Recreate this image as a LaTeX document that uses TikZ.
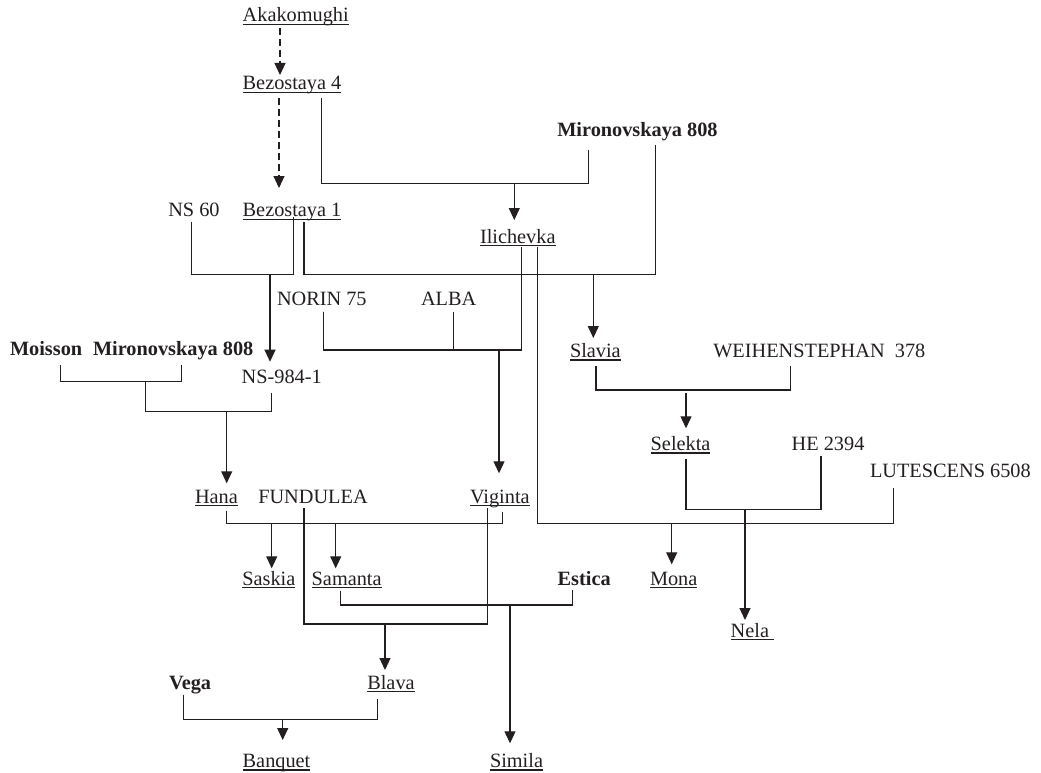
\documentclass[tikz,border=0pt]{standalone}
\usepackage{fontspec}
\setmainfont{Liberation Serif}
\usetikzlibrary{arrows.meta}
\definecolor{ink}{RGB}{35,31,32}
\newcommand\myul[1]{\setbox0\hbox{#1}\rlap{\rule[-3pt]{\wd0}{1.1pt}}\box0}
\begin{document}
\begin{tikzpicture}[x=1pt,y=-1pt,
  lab/.style={inner sep=0pt,outer sep=0pt,anchor=base west,text=ink,font=\fontsize{20.3}{24}\selectfont},
  bl/.style={lab,font=\fontsize{20.3}{24}\selectfont\bfseries},
  ln/.style={draw=ink,line width=1.1pt},
  arr/.style={ln,-{Triangle[width=11pt,length=12pt]}},
  darr/.style={arr,dash pattern=on 7pt off 4pt}]
\useasboundingbox (0,0) rectangle (1041,773);
% ---- texts
\node[lab] (akak) at (242.7,21.7) {\myul{Akakomughi}};
\node[lab] (bez4) at (242.7,90) {\myul{Bezostaya 4}};
\node[bl] (mir1) at (557.3,137) {Mironovskaya 808};
\node[lab] (ns60) at (168.3,216.7) {NS 60};
\node[lab] (bez1) at (242.7,216.7) {\myul{Bezostaya 1}};
\node[lab] (ili) at (480,243) {\myul{Ilichevka}};
\node[lab] (norin) at (277,305) {NORIN 75};
\node[lab] (alba) at (421,305) {ALBA};
\node[bl] (moi) at (10,355.7) {Moisson};
\node[bl] (mir2) at (93,355.7) {Mironovskaya 808};
\node[lab] (ns984) at (241.7,383) {NS-984-1};
\node[lab] (slavia) at (570,357.5) {\myul{Slavia}};
\node[lab] (weih) at (713.3,357.5) {WEIHENSTEPHAN\ \ 378};
\node[lab] (selekta) at (650.7,450.5) {\myul{Selekta}};
\node[lab] (he) at (791.7,450.5) {HE 2394};
\node[lab] (lut) at (870,477) {LUTESCENS 6508};
\node[lab] (hana) at (195,503) {\myul{Hana}};
\node[lab] (fund) at (258.3,503) {FUNDULEA};
\node[lab] (vig) at (470,503) {\myul{Viginta}};
\node[lab] (saskia) at (242.3,585) {\myul{Saskia}};
\node[lab] (samanta) at (311.7,585) {\myul{Samanta}};
\node[bl] (estica) at (557.7,585) {Estica};
\node[lab] (mona) at (650,585) {\myul{Mona}};
\node[lab] (nela) at (730.7,637) {\myul{Nela\ }};
\node[bl] (vega) at (169,689) {Vega};
\node[lab] (blava) at (367.3,689) {\myul{Blava}};
\node[lab] (banq) at (242.7,767.5) {\myul{Banquet}};
\node[lab] (simila) at (490,767.5) {\myul{Simila}};
% ---- junction coordinates
\coordinate (a1) at (280,28); \coordinate (a1t) at (280,75);
\coordinate (b1) at (279,98); \coordinate (b1t) at (279,188);
\coordinate (c1) at (321.7,98); \coordinate (c2) at (588.3,150); \coordinate (cH) at (514.3,183.3); \coordinate (cT) at (514.3,220);
\coordinate (d1) at (191.7,222); \coordinate (d2) at (293.3,217); \coordinate (dH) at (270,274.3); \coordinate (dT) at (270,361.7);
\coordinate (e1) at (304,222); \coordinate (e2) at (655.7,145); \coordinate (eH) at (593.3,274.3); \coordinate (eT) at (593.3,338);
\coordinate (f1) at (323.3,311.7); \coordinate (f2) at (453.3,311.7); \coordinate (f3) at (521.7,246.7); \coordinate (fH) at (499,350); \coordinate (fT) at (499,473.3);
\coordinate (g1) at (60.7,365); \coordinate (g2) at (181.7,365); \coordinate (gH) at (145.7,381.7);
\coordinate (h2) at (271.7,393.3); \coordinate (hH) at (226.7,411.7); \coordinate (hT) at (226.7,483.3);
\coordinate (i1) at (596,366); \coordinate (i2) at (790.7,366); \coordinate (iH) at (686,390); \coordinate (iS) at (686,393); \coordinate (iT) at (686,428.3);
\coordinate (j1) at (686,459); \coordinate (j2) at (821,456); \coordinate (jH) at (745,509.3); \coordinate (jT) at (745,620);
\coordinate (k1) at (537.5,246.7); \coordinate (k2) at (893.3,488.3); \coordinate (kH) at (671.7,523.3); \coordinate (kT) at (671.7,564.3);
\coordinate (l1) at (226.7,510.7); \coordinate (l2) at (502.3,511.7); \coordinate (lH) at (271.7,523.3); \coordinate (lT) at (271.7,568.3); \coordinate (lH2) at (335.7,523.3); \coordinate (lT2) at (335.7,568.3);
\coordinate (m1) at (304,508); \coordinate (m2) at (487.7,508); \coordinate (mH) at (385,624); \coordinate (mT) at (385,670);
\coordinate (n1) at (340.7,590.7); \coordinate (n2) at (572.3,590); \coordinate (nH) at (510,605); \coordinate (nT) at (510,743.3);
\coordinate (o1) at (183.3,695); \coordinate (o2) at (377.3,699); \coordinate (oH) at (282.7,719.3); \coordinate (oT) at (282.7,740);
% ---- connectors
\draw[darr] (a1) -- (a1t);
\draw[darr] (b1) -- (b1t);
\draw[ln] (c1) |- (cH) -| (c2); \draw[arr] (cH) -- (cT);
\draw[ln] (d1) |- (dH) -| (d2); \draw[arr] (dH) -- (dT);
\draw[ln] (e1) |- (eH) -| (e2); \draw[arr] (eH) -- (eT);
\draw[ln] (f1) |- (fH) -| (f3); \draw[ln] (f2) -- (f2 |- fH); \draw[arr] (fH) -- (fT);
\draw[ln] (g1) |- (gH) -| (g2);
\draw[ln] (gH) |- (hH) -| (h2); \draw[arr] (hH) -- (hT);
\draw[ln] (i1) |- (iH) -| (i2); \draw[arr] (iS) -- (iT);
\draw[ln] (j1) |- (jH) -| (j2); \draw[arr] (jH) -- (jT);
\draw[ln] (k1) |- (kH) -| (k2); \draw[arr] (kH) -- (kT);
\draw[ln] (l1) |- (lH) -| (l2); \draw[arr] (lH) -- (lT); \draw[arr] (lH2) -- (lT2);
\draw[ln] (m1) |- (mH) -| (m2); \draw[arr] (mH) -- (mT);
\draw[ln] (n1) |- (nH) -| (n2); \draw[arr] (nH) -- (nT);
\draw[ln] (o1) |- (oH) -| (o2); \draw[arr] (oH) -- (oT);
\end{tikzpicture}
\end{document}
